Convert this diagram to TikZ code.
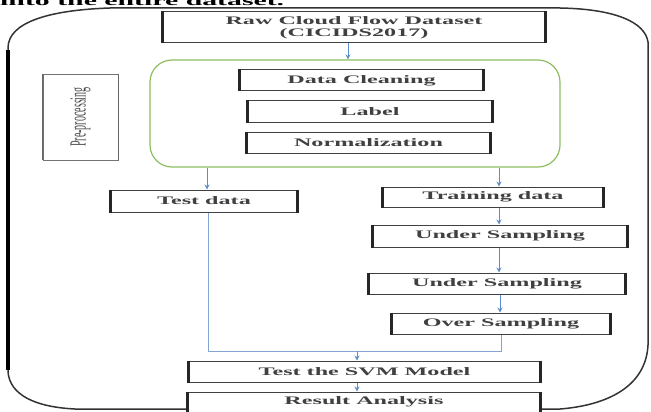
\documentclass[tikz,border=0pt]{standalone}
\usepackage{fontspec}
\setmainfont{Liberation Serif}
\usepackage{graphicx}
\usetikzlibrary{arrows.meta}
\definecolor{ablue}{RGB}{95,140,205}
\definecolor{lblue}{RGB}{130,165,210}
\definecolor{ggreen}{RGB}{140,190,95}
\newcommand{\sx}[1]{\scalebox{2.1}[1]{#1}}
\begin{document}
\begin{tikzpicture}[x=1pt,y=-1pt,
  box/.style={draw=black!75, line width=1pt, fill=white, inner sep=0pt,
    font=\fontsize{11.5}{12}\selectfont\bfseries, text=black!75, align=center,
    append after command={(\tikzlastnode.north west) edge[draw=black!85,line width=2.4pt] (\tikzlastnode.south west)
      (\tikzlastnode.north east) edge[draw=black!85,line width=2.4pt] (\tikzlastnode.south east)}},
  grp/.style={draw=ggreen, line width=1.2pt, rounded corners=22pt, inner sep=0pt},
  prebox/.style={draw=black!55, line width=0.8pt, inner sep=0pt,
    append after command={(\tikzlastnode.north west) edge[draw=black!60,line width=1.6pt] (\tikzlastnode.south west)
      (\tikzlastnode.north east) edge[draw=black!60,line width=1.6pt] (\tikzlastnode.south east)}},
  arr/.style={draw=ablue, line width=0.8pt, -{Stealth[length=5pt,width=5pt]}},
  conn/.style={draw=lblue, line width=0.8pt},
  outer/.style={draw=black!80, line width=1.5pt}]
\useasboundingbox (0,0) rectangle (651,412);
\clip (0,0) rectangle (651,412);
% heading text (cut at top)
\node[anchor=base west, inner sep=0pt, text=black] (head) at (0,5.5)
  {\scalebox{2.19}[1]{\fontsize{13.6}{16}\selectfont\bfseries into the entire dataset.}};
% outer frame
\draw[outer] (8,372) -- (8,48) .. controls (8,22) and (50,10) .. (110,8)
  -- (560,8) .. controls (615,9) and (645,22) .. (648,42)
  -- (648,345) .. controls (646,385) and (610,405) .. (560,409)
  -- (75,409) .. controls (35,407) and (10,395) .. (8,372);
\draw[draw=black, line width=3.5pt] (8,370) -- (8,50);
% group
\node[grp, minimum width=410pt, minimum height=107pt] (green) at (355,113.5) {};
\node[prebox, minimum width=75pt, minimum height=86pt] (pre) at (80.5,117)
  {\scalebox{2.3}[1]{\rotatebox{90}{\fontsize{10}{12}\selectfont\color{black!70}Pre-processing}}};
% boxes
\node[box, minimum width=382pt, minimum height=31pt] (raw) at (354,27.5)
  {\sx{Raw Cloud Flow Dataset}\\\sx{(CICIDS2017)}};
\node[box, minimum width=243pt, minimum height=21pt] (dc) at (361.5,80.5) {\sx{Data Cleaning}};
\node[box, minimum width=244pt, minimum height=21pt] (label) at (370,111.5) {\sx{Label}};
\node[box, minimum width=243pt, minimum height=21pt] (norm) at (368.5,142.5) {\sx{Normalization}};
\node[box, minimum width=186pt, minimum height=22pt] (test) at (204,201) {\sx{Test data}};
\node[box, minimum width=220pt, minimum height=20pt] (train) at (493,197) {\sx{Training data}};
\node[box, minimum width=254pt, minimum height=22pt] (under1) at (500,236) {\sx{Under Sampling}};
\node[box, minimum width=256pt, minimum height=21pt] (under2) at (497,283.5) {\sx{Under Sampling}};
\node[box, minimum width=218pt, minimum height=21pt] (over) at (501,323.5) {\sx{Over Sampling}};
\node[box, minimum width=351pt, minimum height=21pt] (svm) at (364.5,371.5) {\sx{Test the SVM Model}};
\node[box, minimum width=352pt, minimum height=20pt] (result) at (364,402) {\sx{Result Analysis}};
% connectors
\draw[arr] ([xshift=-6pt]raw.south) -- ([xshift=-6pt]raw.south |- green.north);
\draw[arr] ([xshift=3pt]test.north |- green.south) -- ([xshift=3pt]test.north);
\draw[arr] ([xshift=6pt]train.north |- green.south) -- ([xshift=6pt]train.north);
\draw[arr] ([xshift=6pt]train.south) -- ([xshift=6pt]train.south |- under1.north);
\draw[arr] ([xshift=-1pt]under1.south) -- ([xshift=-1pt]under1.south |- under2.north);
\draw[arr] ([xshift=3pt]under2.south) -- ([xshift=3pt]under2.south |- over.north);
\coordinate (jl) at (208,351);
\coordinate (jr) at (501,351);
\coordinate (jm) at (357,351);
\draw[conn] ([xshift=4pt]test.south) -- (jl) -- (jr) -- (over.south);
\draw[arr] (jm) -- (jm |- svm.north);
\draw[arr] (svm.south -| jm) -- (jm |- result.north);
\end{tikzpicture}
\end{document}
